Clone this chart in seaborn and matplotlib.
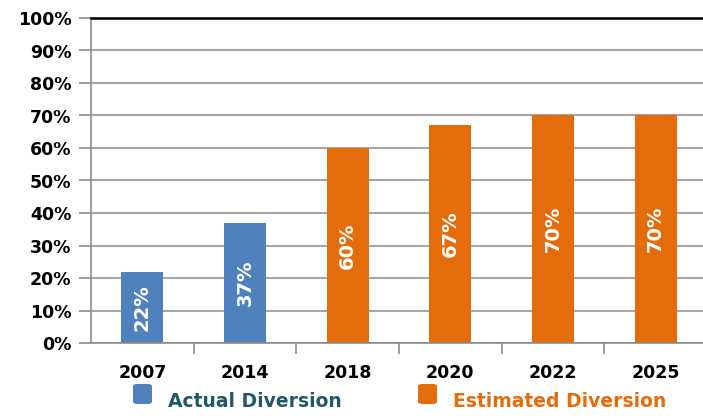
import numpy as np
import pandas as pd
import matplotlib.pyplot as plt
from matplotlib.patches import FancyBboxPatch
import seaborn as sns

years = ["2007", "2014", "2018", "2020", "2022", "2025"]
diversion = [22, 37, 60, 67, 70, 70]
kind = ["Actual Diversion", "Actual Diversion", "Estimated Diversion",
        "Estimated Diversion", "Estimated Diversion", "Estimated Diversion"]

blue = "#4F81BD"
orange = "#E46C0A"
teal = "#215968"

df = pd.DataFrame({"year": years, "value": diversion, "kind": kind})

sns.set_style("white")
plt.rcParams["font.family"] = ["DejaVu Sans"]

fig = plt.figure(figsize=(7.03, 4.19), dpi=100)
ax = fig.add_axes([91 / 703, 1 - 343 / 419, 616 / 703, 325 / 419])

sns.barplot(data=df, x="year", y="value", hue="kind", dodge=False,
            palette={"Actual Diversion": blue, "Estimated Diversion": orange},
            width=0.41, ax=ax, legend=False, saturation=1, linewidth=0)

for c in ax.containers:
    labels = [f"{v:.0f}%" if v > 0 else "" for v in c.datavalues]
    ax.bar_label(c, labels=labels, label_type="center", rotation=90,
                 color="white", fontsize=14, fontweight="bold")

ax.set_ylim(0, 100)
ax.set_xlim(-0.5, 5.5)
ax.set_yticks(np.arange(0, 101, 10))
ax.set_yticklabels([f"{t}%" for t in range(0, 101, 10)],
                   fontsize=12.5, fontweight="bold", color="black")
ax.set_xticks(range(len(years)))
ax.set_xticklabels(years, fontsize=12.5, fontweight="bold", color="black")
ax.set_xticks(np.arange(0.5, 5.5, 1), minor=True)
ax.tick_params(axis="x", which="major", bottom=True, length=0, pad=15)
ax.tick_params(axis="x", which="minor", bottom=True, length=8, color="#8c8c8c",
               width=1.2, direction="out")
ax.tick_params(axis="y", left=True, length=9, color="#8c8c8c", width=1.2,
               direction="out", pad=5)
ax.set_xlabel("")
ax.set_ylabel("")

ax.yaxis.grid(True, color="#a6a6a6", lw=1.5)
ax.set_axisbelow(True)
for s in ["left", "bottom"]:
    ax.spines[s].set_color("#8c8c8c")
    ax.spines[s].set_linewidth(1.2)
ax.spines["right"].set_visible(False)
ax.spines["top"].set_color("black")
ax.spines["top"].set_linewidth(1.8)

# legend drawn under the axis
for x0, label, col, tcol in [(133, "Actual Diversion", blue, teal),
                             (418, "Estimated Diversion", orange, orange)]:
    box = FancyBboxPatch((x0 / 703, 1 - 404 / 419), 19 / 703, 20 / 419,
                         boxstyle="round,pad=0,rounding_size=0.006",
                         transform=fig.transFigure, facecolor=col, edgecolor="none")
    fig.patches.append(box)
    fig.text((x0 + 35) / 703, 1 - 401 / 419, label, color=tcol,
             fontsize=13.5, fontweight="bold", va="center", ha="left")

fig.savefig("out.png", dpi=100)
